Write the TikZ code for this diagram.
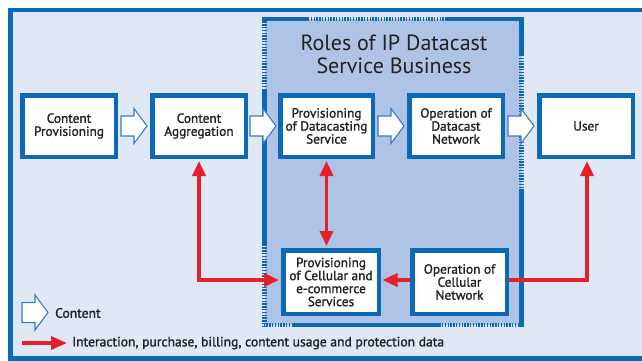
\documentclass[tikz,border=0pt]{standalone}
\usepackage{fontspec}
\setmainfont{PT Sans}
\newfontfamily\labelfont{PT Sans}[FakeBold=1.4]
\usetikzlibrary{arrows.meta,calc}
\definecolor{frameblue}{HTML}{0B69B5}
\definecolor{outerfill}{HTML}{E0E8F5}
\definecolor{innerfill}{HTML}{AEC3E5}
\definecolor{datared}{HTML}{E6202A}
\definecolor{textdark}{HTML}{222222}
\definecolor{arrowline}{HTML}{3A7CC6}
\tikzset{
  rolebox/.style={draw=frameblue, line width=4.5pt, fill=white, align=center,
    inner sep=0pt, minimum width=93.5pt, minimum height=61.5pt,
    text=textdark, font=\labelfont\fontsize{13.3}{13}\selectfont},
  solidedge/.style={draw=frameblue, line width=4.5pt},
  hatchedge/.style={draw=frameblue, line width=4.5pt, dash pattern=on 1.4pt off 1.4pt},
  datalink/.style={draw=datared, line width=3.6pt,
    arrows={-Triangle[length=15pt,width=13pt]}},
  datalink2/.style={datalink, arrows={Triangle[length=15pt,width=13pt]-Triangle[length=15pt,width=13pt]}},
  legendtext/.style={anchor=west, inner sep=0pt, text=textdark, font=\labelfont\fontsize{13.6}{14}\selectfont},
  contentarrow/.pic={
    \draw[arrowline, line width=1.1pt, fill=white, line join=miter]
      (-13,-10) -- (0,-10) -- (0,-17.5) -- (13,0) -- (0,17.5) -- (0,10) -- (-13,10) -- cycle;
  }
}
\begin{document}
\begin{tikzpicture}[x=1pt,y=-1pt]
\useasboundingbox (0,0) rectangle (642,360);
\begin{scope}
\clip (0,0) rectangle (642,360);
% outer frame
\draw[draw=frameblue, fill=outerfill, line width=4.5pt] (10.5,9.8) rectangle (660,358.5);
\end{scope}
% inner region: roles of the IP Datacast service business
\fill[innerfill] (264.5,19) rectangle (521.5,325);
% top edge
\draw[solidedge] (262.25,19) -- (308,19);
\draw[hatchedge] (308,19) -- (447,19);
\draw[solidedge] (447,19) -- (523.75,19);
% right edge
\draw[solidedge] (521.5,16.75) -- (521.5,55);
\draw[hatchedge] (521.5,55) -- (521.5,190);
\draw[solidedge] (521.5,190) -- (521.5,327.25);
% bottom edge
\draw[hatchedge] (519,325) -- (440,325);
\draw[solidedge] (440,325) -- (293,325);
\draw[hatchedge] (293,325) -- (262.25,325);
% left edge
\draw[hatchedge] (264.5,327.25) -- (264.5,245);
\draw[solidedge] (264.5,245) -- (264.5,90);
\draw[hatchedge] (264.5,90) -- (264.5,21.25);

\node[text=textdark, align=center, font=\fontsize{22}{23}\selectfont] (title) at (394,54)
  {Roles of IP Datacast\\Service Business};

% role boxes
\node[rolebox] (cp) at (69,126) {Content\\Provisioning};
\node[rolebox] (ca) at (199,126) {Content\\Aggregation};
\node[rolebox, minimum width=92.5pt] (pd) at (326.5,126) {Provisioning\\of Datacasting\\Service};
\node[rolebox] (od) at (456,126) {Operation of\\Datacast\\Network};
\node[rolebox] (us) at (586,126) {User};
\node[rolebox, minimum width=95.5pt, minimum height=63.5pt] (pc) at (331,282)
  {Provisioning\\of Cellular and\\e-commerce\\Services};
\node[rolebox, minimum width=94.5pt, minimum height=63.5pt] (oc) at (459.5,282)
  {Operation of\\Cellular\\Network};

% content flow
\pic at ($(cp.east)!0.5!(ca.west)$) {contentarrow};
\pic at ($(ca.east)!0.5!(pd.west)$) {contentarrow};
\pic at ($(pd.east)!0.5!(od.west)$) {contentarrow};
\pic at ($(od.east)!0.5!(us.west)$) {contentarrow};

% interaction, billing and usage data
\draw[datalink2, shorten <=2pt, shorten >=2pt] ([yshift=2pt]pc.west) -| (ca.south);
\draw[datalink2, shorten <=2pt, shorten >=2pt] (pd.south) -- (pd.south |- pc.north);
\draw[datalink, shorten >=1.5pt] ([yshift=2pt]oc.west) -- ([yshift=2pt]pc.east);
\draw[datalink, shorten >=2pt] ([yshift=2pt]oc.east) -| ([xshift=1pt]us.south);

% legend
\pic at (35,312.5) {contentarrow};
\node[legendtext] (lgc) at (55,313) {Content};
\coordinate (lgs) at (22,343);
\coordinate (lge) at (67,343);
\draw[datalink, arrows={-Triangle[length=16pt,width=13pt]}] (lgs) -- (lge);
\node[legendtext] (lgd) at (72,343) {Interaction, purchase, billing, content usage and protection data};
\end{tikzpicture}
\end{document}
